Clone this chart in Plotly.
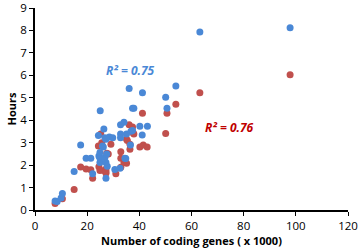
import plotly.graph_objects as go

blue_x = [7.7, 8.5, 10.0, 10.5, 15.0, 17.5, 19.6, 21.4, 22.1, 24.3, 25.0, 24.5, 24.9, 24.9, 24.9, 25.9,
          26.2, 26.4, 26.8, 26.8, 27.2, 27.2, 27.2, 27.5, 27.7, 28.5, 29.8, 30.6, 32.6, 32.8, 32.8, 32.8,
          34.1, 34.5, 34.8, 35.1, 36.1, 36.6, 36.8, 37.4, 37.9, 37.4, 40.2, 41.1, 41.2, 43.1, 50.1, 50.6,
          54.0, 63.2, 97.8]
blue_y = [0.40, 0.38, 0.54, 0.73, 1.71, 2.90, 2.31, 2.31, 1.61, 3.32, 4.42, 2.41, 2.31, 2.12, 2.56, 2.85,
          2.81, 3.61, 3.22, 2.34, 3.15, 2.12, 1.42, 2.49, 1.95, 3.25, 3.22, 1.80, 1.86, 3.80, 3.39, 3.22,
          3.91, 2.31, 2.30, 3.39, 5.41, 2.90, 3.51, 4.53, 4.53, 3.54, 3.73, 3.34, 5.22, 3.73, 5.02, 4.53,
          5.53, 7.93, 8.12]

red_x = [7.7, 10.5, 15.0, 17.5, 19.6, 21.4, 22.1, 24.3, 24.5, 24.9, 25.2, 25.6, 26.4, 27.2, 27.2, 27.2,
         27.5, 28.1, 29.1, 31.0, 32.9, 32.9, 32.9, 34.1, 35.1, 35.1, 35.4, 36.1, 36.4, 36.4, 37.4, 37.6,
         37.9, 40.2, 41.2, 41.5, 43.0, 50.1, 50.6, 54.0, 63.2, 97.8]
red_y = [0.29, 0.50, 0.91, 1.92, 1.83, 1.79, 1.42, 2.85, 1.93, 1.76, 3.39, 3.00, 1.76, 1.83, 1.64, 1.71,
         2.53, 2.49, 2.93, 1.61, 2.60, 2.31, 1.90, 2.12, 2.08, 3.15, 3.10, 3.80, 2.71, 2.93, 3.70, 3.44,
         3.39, 2.81, 4.31, 2.90, 2.81, 3.41, 4.31, 4.71, 5.22, 6.03]

x_ticks = [0, 20, 40, 60, 80, 100, 120]
y_ticks = [0, 1, 2, 3, 4, 5, 6, 7, 8, 9]

BLUE = "#4a88d6"
RED = "#c0504d"
FONT = "Open Sans"

fig = go.Figure()
fig.add_trace(go.Scatter(x=red_x, y=red_y, mode="markers",
                         marker=dict(color=RED, size=7), showlegend=False, cliponaxis=False))
fig.add_trace(go.Scatter(x=blue_x, y=blue_y, mode="markers",
                         marker=dict(color=BLUE, size=7), showlegend=False, cliponaxis=False))

fig.add_annotation(x=36.8, y=6.22, text="<b><i>R² = 0.75</i></b>", showarrow=False,
                   font=dict(color=BLUE, size=12, family=FONT))
fig.add_annotation(x=74.4, y=3.66, text="<b><i>R² = 0.76</i></b>", showarrow=False,
                   font=dict(color="#c00000", size=12, family=FONT))

fig.update_layout(
    width=358, height=252,
    margin=dict(l=35, r=10, t=8, b=42, autoexpand=False),
    plot_bgcolor="white", paper_bgcolor="white",
    font=dict(family=FONT, size=11, color="black"),
    xaxis=dict(range=[0, 120], tickvals=x_ticks, showgrid=False, zeroline=False,
               showline=True, linecolor="black", linewidth=1.5, automargin=False,
               ticks="outside", ticklen=4, tickcolor="black", tickfont=dict(size=11.5),
               ticklabeloverflow="allow",
               title=dict(text="<b>Number of coding genes ( x 1000)</b>", font=dict(size=11), standoff=4)),
    yaxis=dict(range=[0, 9], tickvals=y_ticks, showgrid=False, zeroline=False,
               showline=True, linecolor="black", linewidth=1.5, automargin=False,
               ticks="outside", ticklen=4, tickcolor="black", tickfont=dict(size=11.5),
               ticklabeloverflow="allow",
               title=dict(text="<b>Hours</b>", font=dict(size=11), standoff=2)),
)

fig.write_html("out.html", config={"displayModeBar": False},
               post_script="document.body.style.margin='0px';document.body.style.padding='0px';")
